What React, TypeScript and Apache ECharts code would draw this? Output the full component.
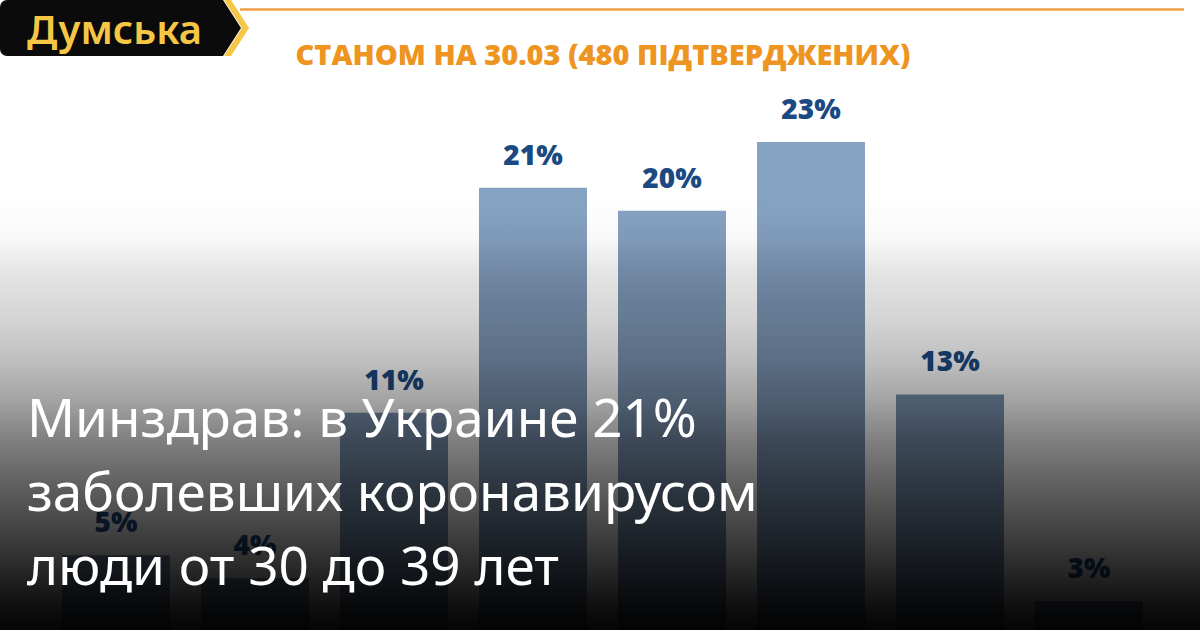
import React, { useEffect, useRef } from "react";
import * as echarts from "echarts";

const categories = ["0-9", "10-19", "20-29", "30-39", "40-49", "50-59", "60-69", "70+"];
const barHeights = [5, 4, 11.2, 21, 20, 23, 12, 3];
const valueLabels = ["5%", "4%", "11%", "21%", "20%", "23%", "13%", "3%"];
const chartTitle = "СТАНОМ НА 30.03 (480 ПІДТВЕРДЖЕНИХ)";
const headlineLines = ["Минздрав: в Украине 21%", "заболевших коронавирусом", "люди от 30 до 39 лет"];
const brand = "Думська";

export default function App() {
  const ref = useRef<HTMLDivElement>(null);
  useEffect(() => {
    if (!ref.current) return;
    const chart = echarts.init(ref.current, undefined, { renderer: "svg" });
    const yellow = "#F6C645";
    chart.setOption({
      animation: false,
      backgroundColor: "#ffffff",
      grid: { left: 46.5, right: 41.5, top: 96, bottom: 0 },
      xAxis: {
        type: "category",
        data: categories,
        show: false,
      },
      yAxis: {
        type: "value",
        min: 1.742,
        max: 25,
        show: false,
        splitLine: { show: false },
      },
      series: [
        {
          type: "bar",
          data: barHeights,
          barWidth: 108,
          z: 2,
          itemStyle: {
            color: new echarts.graphic.LinearGradient(
              0, 140, 0, 630,
              [
                { offset: 0, color: "#87A3C3" },
                { offset: 0.15, color: "#86A2C2" },
                { offset: 0.33, color: "#7A93B1" },
                { offset: 1, color: "#7890AE" },
              ],
              true
            ),
          },
          label: {
            show: true,
            position: "top",
            distance: 20,
            formatter: (p: any) => valueLabels[p.dataIndex],
            color: "#1B4A82",
            fontFamily: "Open Sans",
            fontWeight: 800,
            fontSize: 28,
          },
        },
      ],
      graphic: [
        {
          type: "line",
          z: 50,
          shape: { x1: 240, y1: 9.5, x2: 1184, y2: 9.5 },
          style: { stroke: "#EE9E44", lineWidth: 2.5 },
        },
        {
          type: "text",
          z: 50,
          x: 603,
          y: 53,
          style: {
            text: chartTitle,
            fill: "#EE9420",
            font: "800 29px 'Open Sans'",
            align: "center",
            verticalAlign: "middle",
          },
        },
        {
          type: "rect",
          z: 100,
          shape: { x: 0, y: 200, width: 1200, height: 430 },
          style: {
            fill: new echarts.graphic.LinearGradient(0, 0, 0, 1, [
              { offset: 0, color: "rgba(0,0,0,0)" },
              { offset: 0.093, color: "rgba(0,0,0,0.03)" },
              { offset: 0.163, color: "rgba(0,0,0,0.10)" },
              { offset: 0.279, color: "rgba(0,0,0,0.17)" },
              { offset: 0.372, color: "rgba(0,0,0,0.25)" },
              { offset: 0.465, color: "rgba(0,0,0,0.36)" },
              { offset: 0.558, color: "rgba(0,0,0,0.50)" },
              { offset: 0.674, color: "rgba(0,0,0,0.64)" },
              { offset: 0.767, color: "rgba(0,0,0,0.74)" },
              { offset: 0.837, color: "rgba(0,0,0,0.82)" },
              { offset: 0.907, color: "rgba(0,0,0,0.90)" },
              { offset: 0.965, color: "rgba(0,0,0,0.96)" },
              { offset: 1, color: "rgba(0,0,0,0.98)" },
            ]),
          },
        },
        ...headlineLines.map((t, i) => ({
          type: "text",
          z: 110,
          x: 27,
          y: 416 + i * 74,
          style: {
            text: t,
            fill: "#ffffff",
            font: "400 53px 'Noto Sans'",
            align: "left",
            verticalAlign: "middle",
          },
        })),
        {
          type: "rect",
          z: 120,
          shape: { x: 0, y: 0, width: 30, height: 56, r: [7, 0, 0, 7] },
          style: { fill: "#0b0b0b" },
        },
        {
          type: "polygon",
          z: 120,
          shape: { points: [[20, 0], [223, 0], [241, 28], [223, 56], [20, 56]] },
          style: { fill: "#0b0b0b" },
        },
        {
          type: "polygon",
          z: 121,
          shape: { points: [[224, 0], [231, 0], [249, 28], [231, 56], [224, 56], [242, 28]] },
          style: { fill: yellow },
        },
        {
          type: "text",
          z: 122,
          x: 27,
          y: 28,
          style: {
            text: brand,
            fill: yellow,
            font: "600 40px 'Noto Sans'",
            align: "left",
            verticalAlign: "middle",
          },
        },
      ],
    });
    return () => chart.dispose();
  }, []);
  return (
    <div
      ref={ref}
      style={{ position: "fixed", left: 0, top: 0, width: 1200, height: 630 }}
    />
  );
}
